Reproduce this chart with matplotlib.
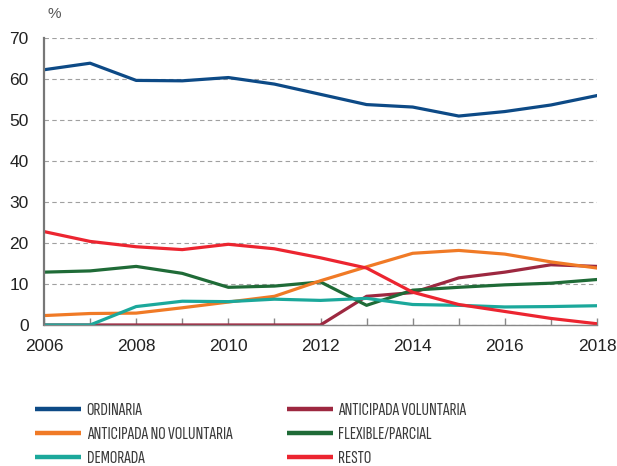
import matplotlib.pyplot as plt

years = list(range(2006, 2019))

ordinaria = [62.3, 63.9, 59.7, 59.6, 60.4, 58.8, 56.3, 53.8, 53.2, 51.0, 52.1, 53.7, 56.0]
antic_no_vol = [2.3, 2.8, 2.9, 4.2, 5.6, 7.0, 10.8, 14.2, 17.5, 18.2, 17.3, 15.4, 13.9]
demorada = [0.0, 0.0, 4.5, 5.8, 5.7, 6.3, 6.0, 6.5, 5.0, 4.8, 4.4, 4.5, 4.7]
antic_vol = [0.0, 0.0, 0.0, 0.0, 0.0, 0.0, 0.0, 7.0, 7.9, 11.5, 12.9, 14.7, 14.3]
flexible = [12.9, 13.2, 14.3, 12.6, 9.2, 9.5, 10.5, 4.8, 8.5, 9.2, 9.8, 10.2, 11.1]
resto = [22.8, 20.4, 19.1, 18.4, 19.7, 18.6, 16.4, 13.9, 8.0, 5.0, 3.3, 1.6, 0.3]

series = [
    ("ORDINARIA", ordinaria, "#0d4a86"),
    ("ANTICIPADA NO VOLUNTARIA", antic_no_vol, "#f07a26"),
    ("DEMORADA", demorada, "#1ba89b"),
    ("ANTICIPADA VOLUNTARIA", antic_vol, "#9d2840"),
    ("FLEXIBLE/PARCIAL", flexible, "#1f6b37"),
    ("RESTO", resto, "#ec2530"),
]
# maroon first so the teal sits on top of it along zero
draw_order = [3, 4, 1, 2, 5, 0]

plt.rcParams["font.family"] = ["Liberation Sans", "DejaVu Sans"]

fig = plt.figure(figsize=(6.17, 4.66), dpi=100)
ax = fig.add_axes([0.0713, 0.3026, 0.8963, 0.6154])

lines = {}
for i in draw_order:
    name, vals, col = series[i]
    ln, = ax.plot(years, vals, color=col, lw=2.3, label=name)
    lines[i] = ln

ax.set_xlim(2006, 2018)
ax.set_ylim(0, 70)
ax.set_yticks(range(0, 71, 10))
ax.set_xticks(years, minor=True)
ax.set_xticks(range(2006, 2019, 2))
ax.grid(axis="y", ls=(0, (4, 3)), color="#a0a0a0", lw=0.8)
ax.set_axisbelow(True)
for s in ["top", "right"]:
    ax.spines[s].set_visible(False)
ax.spines["left"].set_color("#777777")
ax.spines["left"].set_linewidth(1.6)
ax.spines["bottom"].set_color("#888888")
ax.spines["bottom"].set_linewidth(1.0)
ax.tick_params(axis="y", length=0, labelsize=12.5, pad=11, labelcolor="#222222")
ax.tick_params(axis="x", which="both", direction="in", length=5, width=1,
               color="#888888", labelsize=12.5, pad=10, labelcolor="#222222")
fig.text(47 / 617, 1 - 21 / 466, "%", fontsize=11, color="#555555", ha="left", va="bottom")

legend_prop = {"family": ["Sofia Sans Extra Condensed", "DejaVu Sans"], "size": 13.5}
cols = [([0, 1, 2], 0.057), ([3, 4, 5], 0.465)]
for idx, xa in cols:
    leg = fig.legend([lines[i] for i in idx], [series[i][0] for i in idx],
                     loc="upper left", bbox_to_anchor=(xa, 0.137), frameon=False,
                     borderpad=0, borderaxespad=0, handlelength=2.45,
                     handletextpad=0.3, labelspacing=0.42, prop=legend_prop)
    for t in leg.get_texts():
        t.set_color("#3a3a3a")
    for h in leg.get_lines():
        h.set_linewidth(3.2)
        h.set_solid_capstyle("butt")

fig.savefig("out.png", dpi=100)
